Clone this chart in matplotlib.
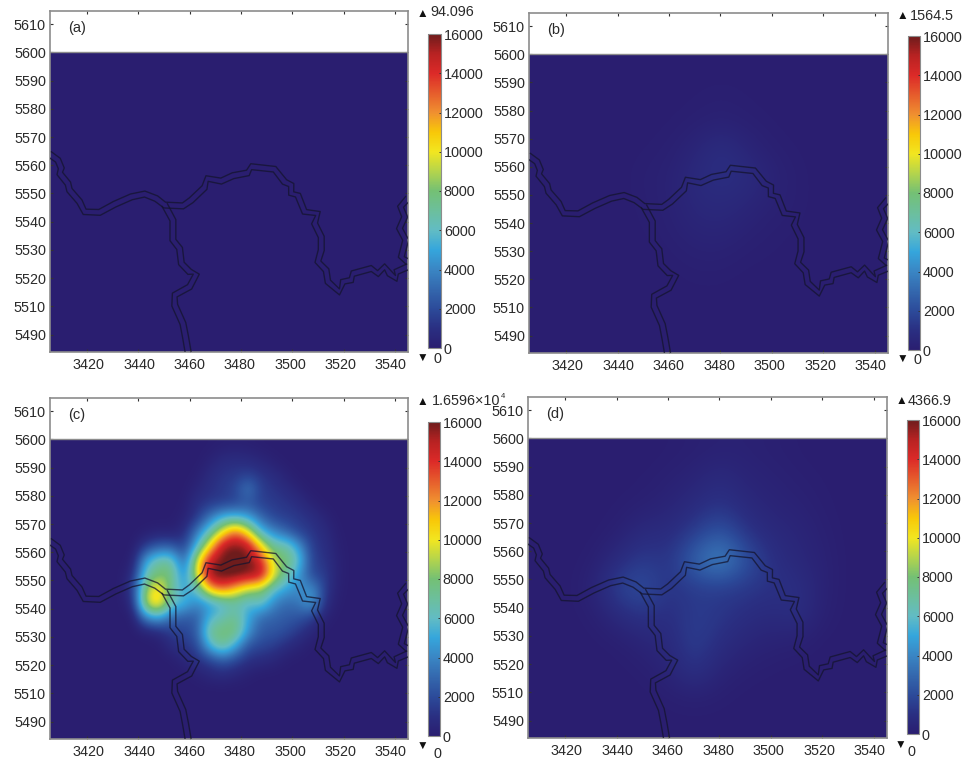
import numpy as np
import matplotlib
matplotlib.use('Agg')
import matplotlib.pyplot as plt
from matplotlib.colors import LinearSegmentedColormap
from matplotlib.transforms import ScaledTranslation

plt.rcParams['font.family'] = ['Liberation Sans', 'DejaVu Sans']

W, H = 967, 760

# colour bar stops
cmap_levels = [0, 1000, 2000, 3000, 4000, 5000, 6000, 7000, 8000, 9000, 10000, 11000, 12000, 13000, 14000, 15000, 16000]
cmap_colors = ['#2a1e70', '#2a2f82', '#2c4b9a', '#3468ae', '#3a86c4', '#35a6dc', '#62bcc4', '#6cbf9c', '#74c074',
               '#b4d44c', '#f2e620', '#f8c808', '#f09030', '#e65c2c', '#dc2a28', '#b82222', '#6e1c1c']

# axis labels; the reference's last y label (5490) sits where 5500 would be
x_ticks = [3420, 3440, 3460, 3480, 3500, 3520, 3540]
y_ticks = [5610, 5600, 5590, 5580, 5570, 5560, 5550, 5540, 5530, 5520, 5510, 5500]
y_labels = ['5610', '5600', '5590', '5580', '5570', '5560', '5550', '5540', '5530', '5520', '5510', '5490']
cbar_ticks = [0, 2000, 4000, 6000, 8000, 10000, 12000, 14000, 16000]

# road centre lines
road_main_x = [3405.5, 3408.7, 3410, 3409.4, 3412.6, 3413.2, 3417.1, 3419.1, 3424.9, 3430.8, 3437.3, 3442.5, 3447,
               3450.3, 3457.4, 3460.6, 3465.8, 3466.8, 3472.3, 3476.9, 3482.7, 3484, 3493.1, 3497, 3499.6, 3499.6,
               3502.2, 3504.8, 3510, 3508.7, 3511.3, 3511.3, 3510, 3513.2, 3513.9, 3518.4, 3519.7, 3523, 3523.6,
               3530.8, 3533.4, 3536, 3537.9, 3540.5, 3540.5, 3545]
road_main_y = [5563.9, 5561.8, 5558.9, 5557.1, 5553.5, 5551.2, 5547.1, 5543.5, 5543.3, 5546.2, 5548.8, 5549.8, 5548.2,
               5545.9, 5545.6, 5547.6, 5552.1, 5555.3, 5554.4, 5556.3, 5557.3, 5559.5, 5558.6, 5554.1, 5553, 5550,
               5549.4, 5543.5, 5542.9, 5539.4, 5534.6, 5529.9, 5525.8, 5522.8, 5518.7, 5515.1, 5518.7, 5519.3, 5521.6,
               5523.4, 5521.6, 5524, 5521.6, 5519.9, 5522.2, 5524]
road_south_x = [3450.3, 3453.5, 3453.5, 3456.1, 3456.8, 3460, 3462.6, 3460, 3454.2, 3454.2, 3457.4, 3458.4, 3459.4]
road_south_y = [5545.9, 5540.5, 5533.5, 5530.5, 5525.2, 5522.2, 5521.4, 5516.9, 5514, 5510.4, 5503.9, 5499.2, 5493.9]
road_east_x = [3545, 3542.2, 3543.8, 3541.8, 3544.2, 3542.5, 3545]
road_east_y = [5548.2, 5545.3, 5541.7, 5537.6, 5533.5, 5527.5, 5525.8]

field_a = [[0, 0], [0, 0]]

field_b = [
    [0, 0, 0, 0, 0, 0, 0, 0, 0, 0, 0, 0, 0, 0],
    [0, 0, 0, 0, 0, 0, 50, 120, 50, 0, 0, 0, 0, 0],
    [0, 0, 0, 0, 0, 50, 150, 250, 150, 50, 0, 0, 0, 0],
    [0, 0, 0, 0, 50, 150, 450, 950, 450, 150, 50, 0, 0, 0],
    [0, 0, 0, 0, 150, 250, 700, 950, 800, 350, 100, 0, 0, 0],
    [0, 0, 0, 0, 100, 250, 600, 700, 500, 250, 100, 0, 0, 0],
    [0, 0, 0, 0, 50, 200, 400, 450, 250, 100, 50, 0, 0, 0],
    [0, 0, 0, 0, 0, 80, 200, 200, 80, 50, 0, 0, 0, 0],
    [0, 0, 0, 0, 0, 0, 50, 50, 0, 0, 0, 0, 0, 0],
    [0, 0, 0, 0, 0, 0, 0, 0, 0, 0, 0, 0, 0, 0],
    [0, 0, 0, 0, 0, 0, 0, 0, 0, 0, 0, 0, 0, 0],
]

field_c = [
    [0, 0, 0, 0, 0, 0, 0, 0, 0, 0, 0, 0, 50, 150, 200, 150, 50, 0, 0, 0, 0, 0, 0, 0, 0, 0, 0, 0],
    [0, 0, 0, 0, 0, 0, 0, 0, 0, 0, 0, 0, 300, 800, 900, 800, 500, 200, 0, 0, 0, 0, 0, 0, 0, 0, 0, 0],
    [0, 0, 0, 0, 0, 0, 0, 0, 0, 0, 0, 100, 800, 1200, 1300, 1600, 1200, 800, 300, 0, 0, 0, 0, 0, 0, 0, 0, 0],
    [0, 0, 0, 0, 0, 0, 0, 0, 0, 0, 0, 500, 1000, 1300, 1800, 3800, 1500, 1200, 800, 300, 0, 0, 0, 0, 0, 0, 0, 0],
    [0, 0, 0, 0, 0, 0, 0, 0, 0, 0, 100, 1000, 1300, 1500, 1800, 2200, 1600, 1400, 1200, 900, 300, 0, 0, 0, 0, 0, 0, 0],
    [0, 0, 0, 0, 0, 0, 0, 0, 0, 0, 300, 1300, 3500, 5500, 5800, 5000, 3000, 1800, 1500, 1300, 1000, 400, 0, 0, 0, 0, 0, 0],
    [0, 0, 0, 0, 0, 0, 0, 100, 300, 200, 800, 3500, 6500, 10000, 13000, 10000, 5500, 4000, 2800, 1600, 1200, 800, 100, 0, 0, 0, 0, 0],
    [0, 0, 0, 0, 0, 0, 0, 1500, 2500, 2500, 1500, 5500, 10500, 15500, 16000, 15500, 10500, 7000, 7000, 4500, 1400, 1000, 200, 0, 0, 0, 0, 0],
    [0, 0, 0, 0, 0, 0, 200, 5000, 7000, 7000, 2500, 9500, 15000, 16000, 16500, 16000, 14500, 9000, 8000, 6000, 1600, 1200, 300, 0, 0, 0, 0, 0],
    [0, 0, 0, 0, 0, 0, 800, 6500, 8000, 8000, 3500, 10000, 16000, 16500, 16500, 16000, 15500, 10000, 7000, 4500, 1800, 1500, 300, 0, 0, 0, 0, 0],
    [0, 0, 0, 0, 0, 0, 1500, 8500, 11000, 7000, 5000, 6000, 11500, 13000, 11000, 9000, 8500, 6000, 4800, 4000, 4500, 1500, 200, 0, 0, 0, 0, 0],
    [0, 0, 0, 0, 0, 0, 800, 9500, 11500, 6500, 5500, 4000, 4500, 5500, 6500, 5500, 6500, 4000, 3000, 3500, 5000, 1000, 100, 0, 0, 0, 0, 0],
    [0, 0, 0, 0, 0, 0, 0, 4000, 5000, 3000, 2500, 2500, 5500, 6500, 7500, 5000, 3000, 2800, 2500, 2300, 1500, 300, 0, 0, 0, 0, 0, 0],
    [0, 0, 0, 0, 0, 0, 0, 200, 600, 1500, 1800, 2500, 7500, 8000, 8000, 4500, 2500, 2400, 2000, 1200, 500, 0, 0, 0, 0, 0, 0, 0],
    [0, 0, 0, 0, 0, 0, 0, 0, 0, 800, 1200, 1800, 5500, 7500, 5000, 2200, 1800, 1500, 800, 400, 0, 0, 0, 0, 0, 0, 0, 0],
    [0, 0, 0, 0, 0, 0, 0, 0, 0, 0, 500, 1000, 1600, 2500, 1800, 1000, 800, 500, 100, 0, 0, 0, 0, 0, 0, 0, 0, 0],
    [0, 0, 0, 0, 0, 0, 0, 0, 0, 0, 0, 200, 600, 800, 500, 200, 0, 0, 0, 0, 0, 0, 0, 0, 0, 0, 0, 0],
    [0, 0, 0, 0, 0, 0, 0, 0, 0, 0, 0, 0, 0, 0, 0, 0, 0, 0, 0, 0, 0, 0, 0, 0, 0, 0, 0, 0],
    [0, 0, 0, 0, 0, 0, 0, 0, 0, 0, 0, 0, 0, 0, 0, 0, 0, 0, 0, 0, 0, 0, 0, 0, 0, 0, 0, 0],
    [0, 0, 0, 0, 0, 0, 0, 0, 0, 0, 0, 0, 0, 0, 0, 0, 0, 0, 0, 0, 0, 0, 0, 0, 0, 0, 0, 0],
    [0, 0, 0, 0, 0, 0, 0, 0, 0, 0, 0, 0, 0, 0, 0, 0, 0, 0, 0, 0, 0, 0, 0, 0, 0, 0, 0, 0],
]

field_d = [
    [0, 0, 0, 0, 0, 50, 150, 250, 250, 150, 50, 0, 0, 0],
    [0, 0, 0, 0, 50, 200, 400, 800, 400, 300, 150, 50, 0, 0],
    [0, 0, 0, 50, 200, 400, 800, 1200, 700, 400, 300, 100, 0, 0],
    [0, 0, 0, 200, 800, 800, 1500, 2500, 1200, 700, 500, 200, 0, 0],
    [0, 0, 100, 800, 1500, 1100, 3000, 4300, 2300, 1000, 600, 300, 0, 0],
    [0, 0, 300, 1700, 2200, 1100, 1400, 1400, 1300, 1100, 1000, 300, 0, 0],
    [0, 0, 100, 700, 1200, 900, 1500, 1300, 900, 700, 1000, 200, 0, 0],
    [0, 0, 0, 100, 400, 700, 1600, 900, 500, 300, 200, 0, 0, 0],
    [0, 0, 0, 0, 100, 400, 1200, 400, 150, 50, 0, 0, 0, 0],
    [0, 0, 0, 0, 0, 100, 200, 100, 0, 0, 0, 0, 0, 0],
    [0, 0, 0, 0, 0, 0, 0, 0, 0, 0, 0, 0, 0, 0],
]

panel_names = ['(a)', '(b)', '(c)', '(d)']
panel_fields = [field_a, field_b, field_c, field_d]
max_labels = ['94.096', '1564.5', '1.6596×10', '4366.9']

# layout in reference pixels: axes (l, r, t, b), bar (l, r, t, b)
axes_px = [(50, 408, 11, 352), (529, 888, 13, 353), (50, 408, 398, 739), (528, 887, 397, 738)]
bar_px = [(428, 441, 34, 348), (908, 920, 36, 350), (428, 440, 422, 736), (907, 919, 420, 734)]
up_px = [(422, 14, 430, 12), (902, 16, 910, 16), (422, 402, 432, 401), (901, 401, 908, 401)]
down_px = [(422, 359, 433, 359), (902, 360, 913, 360), (422, 747, 434, 754), (900, 746, 908, 752)]

text_color = '#2a2a2a'
frame_color = '#8c8c8c'
font_size = 10.4

cmap = LinearSegmentedColormap.from_list(
    'conc', [(v / cmap_levels[-1], c) for v, c in zip(cmap_levels, cmap_colors)], N=512)


def add_axes_px(fig, box):
    l, r, t, b = box
    return fig.add_axes([l / W, 1 - b / H, (r - l) / W, (b - t) / H])


def draw_road(ax, xs, ys):
    # two parallel lines either side of the centre line, 3 px off
    x = np.array(xs) * 2.567
    y = np.array(ys) * 2.82
    dx = np.gradient(x)
    dy = np.gradient(y)
    n = np.hypot(dx, dy)
    nx, ny = -dy / n * 3.0, dx / n * 3.0
    for s in (-1, 1):
        ax.plot((x + s * nx) / 2.567, (y + s * ny) / 2.82, color='#14142e', lw=1.0, alpha=0.75,
                solid_joinstyle='round', zorder=3)


fig = plt.figure(figsize=(W / 100, H / 100), dpi=100)

for i in range(4):
    ax = add_axes_px(fig, axes_px[i])
    im = ax.imshow(np.array(panel_fields[i], dtype=float), extent=[3405.6, 3545.1, 5493.8, 5600], origin='upper',
                   cmap=cmap, vmin=0, vmax=16000, interpolation='bicubic', interpolation_stage='data',
                   aspect='auto', zorder=1)
    draw_road(ax, road_main_x, road_main_y)
    draw_road(ax, road_south_x, road_south_y)
    draw_road(ax, road_east_x, road_east_y)
    ax.plot([3405.6, 3545.1], [5600, 5600], color=frame_color, lw=1.0, zorder=4)
    ax.set_xlim(3405.6, 3545.1)
    ax.set_ylim(5493.8, 5614.7)
    ax.set_xticks(x_ticks)
    ax.set_yticks(y_ticks)
    ax.set_yticklabels(y_labels)
    ax.tick_params(axis='both', direction='in', length=2.5, width=0.8, color='#333333', top=True, right=True,
                   labelsize=font_size, labelcolor=text_color)
    ax.tick_params(axis='x', pad=4)
    ax.tick_params(axis='y', pad=3)
    # x labels run slightly tighter than the ticks in the reference
    for k, lab in enumerate(ax.get_xticklabels()):
        shift = (1.7 - k * 1.0) * 0.72
        lab.set_transform(lab.get_transform() + ScaledTranslation(shift / 72, 0, fig.dpi_scale_trans))
    for sp in ax.spines.values():
        sp.set_color(frame_color)
        sp.set_linewidth(1.2)
    ax.text(3416, 5608.5, panel_names[i], fontsize=10.5, color=text_color, va='center', ha='center')

    cax = add_axes_px(fig, bar_px[i])
    cb = fig.colorbar(im, cax=cax, ticks=cbar_ticks)
    cb.ax.tick_params(direction='in', length=1.5, width=0.7, color='#333333', labelsize=font_size,
                      labelcolor=text_color, pad=2)
    cb.outline.set_edgecolor(frame_color)
    cb.outline.set_linewidth(0.8)

    ux, uy, tx, ty = up_px[i]
    fig.text(ux / W, 1 - uy / H, '▲', fontsize=8.5, color='#111111', ha='center', va='center')
    fig.text(tx / W, 1 - ty / H, max_labels[i], fontsize=font_size, color=text_color, ha='left', va='center')
    dx, dy, zx, zy = down_px[i]
    fig.text(dx / W, 1 - dy / H, '▼', fontsize=8.5, color='#111111', ha='center', va='center')
    fig.text(zx / W, 1 - zy / H, '0', fontsize=font_size, color=text_color, ha='left', va='center')

# small exponent of the panel (c) maximum
fig.text(501 / W, 1 - 397 / H, '4', fontsize=5.5, color=text_color, ha='left', va='center')

fig.savefig('out.png', dpi=100)
